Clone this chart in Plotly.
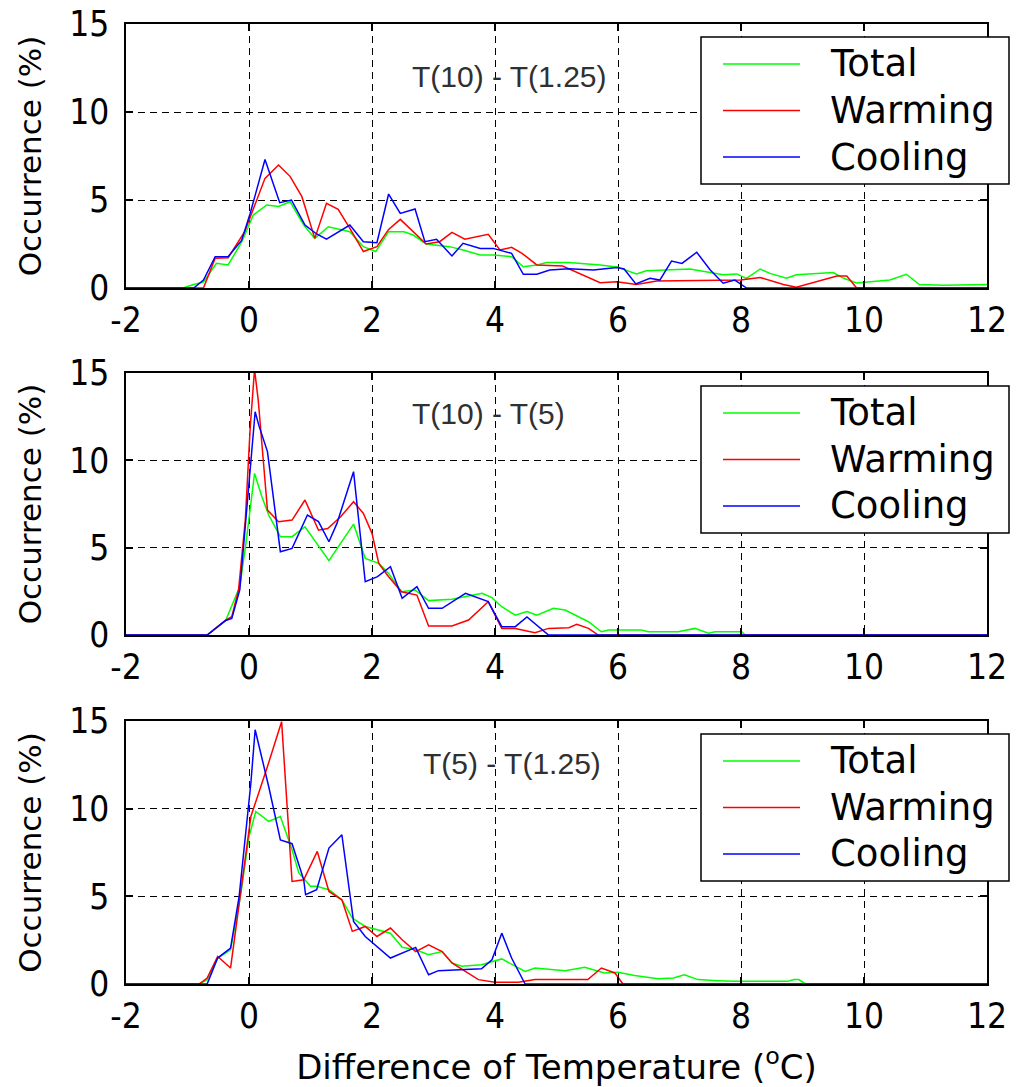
import plotly.graph_objects as go

# ---------------- data ----------------
# Panel 1: T(10) - T(1.25)
p1_total_x = [-2, -1.07, -0.9, -0.74, -0.53, -0.34, -0.12, 0.07, 0.29, 0.48, 0.67, 0.89, 1.07, 1.29, 1.64, 1.86, 2.06, 2.27, 2.52, 2.67, 2.88, 3.26, 3.48, 3.76, 3.97, 4.27, 4.46, 4.68, 4.84, 5.2, 5.71, 5.98, 6.3, 6.46, 7.17, 7.5, 7.71, 7.93, 8.09, 8.31, 8.47, 8.74, 8.9, 9.5, 9.67, 9.88, 10.42, 10.69, 10.9, 11.3, 12]
p1_total_y = [0, 0, 0.2, 0.33, 1.4, 1.31, 2.6, 4.15, 4.72, 4.63, 4.9, 3.58, 2.82, 3.48, 3.2, 2.35, 2.07, 3.2, 3.2, 3.01, 2.5, 2.35, 2.16, 1.88, 1.88, 1.78, 1.21, 1.31, 1.45, 1.45, 1.3, 1.2, 0.8, 0.98, 1.08, 0.9, 0.75, 0.8, 0.55, 1.08, 0.83, 0.55, 0.75, 0.88, 0.55, 0.28, 0.45, 0.78, 0.2, 0.15, 0.2]
p1_warm_x = [-2, -0.74, -0.55, -0.34, -0.07, 0.26, 0.48, 0.67, 0.86, 1.07, 1.26, 1.45, 1.64, 1.86, 2.08, 2.27, 2.46, 2.67, 2.88, 3.1, 3.3, 3.51, 3.89, 4.08, 4.27, 4.44, 4.68, 5.1, 5.71, 5.98, 6.3, 6.63, 7.6, 7.99, 8.31, 8.69, 8.9, 9.56, 9.72, 9.88, 12]
p1_warm_y = [0, 0, 1.69, 1.72, 3.2, 6.23, 6.99, 6.33, 5.19, 2.82, 4.81, 4.47, 3.39, 2.07, 2.35, 3.33, 3.9, 3.2, 2.5, 2.63, 3.16, 2.77, 3.05, 2.16, 2.31, 1.97, 1.31, 1.25, 0.3, 0.35, 0.2, 0.4, 0.45, 0.45, 0.6, 0.2, 0.05, 0.68, 0.68, 0, 0]
p1_cool_x = [-2, -0.9, -0.74, -0.55, -0.34, -0.12, 0.02, 0.26, 0.5, 0.69, 0.91, 1.1, 1.26, 1.45, 1.64, 1.86, 2.08, 2.27, 2.46, 2.7, 2.86, 3.05, 3.3, 3.48, 3.76, 3.97, 4.27, 4.46, 4.68, 4.89, 5.2, 5.6, 5.98, 6.1, 6.29, 6.52, 6.68, 6.87, 7.04, 7.28, 7.5, 7.71, 7.9, 8.09, 12]
p1_cool_y = [0, 0, 0.45, 1.78, 1.78, 2.7, 4.25, 7.3, 4.85, 5.0, 3.58, 3.07, 2.77, 3.2, 3.58, 2.63, 2.57, 5.34, 4.24, 4.49, 2.63, 2.77, 1.82, 2.54, 2.25, 2.25, 1.97, 0.78, 0.78, 1.02, 1.1, 1.02, 1.17, 1.08, 0.23, 0.55, 0.45, 1.53, 1.4, 2.03, 1.02, 0.27, 0.45, 0, 0]

# Panel 2: T(10) - T(5)
p2_total_x = [-2, -0.68, -0.38, -0.15, -0.05, 0.02, 0.09, 0.21, 0.32, 0.51, 0.7, 0.91, 1.3, 1.7, 1.89, 2.11, 2.27, 2.48, 2.7, 2.92, 3.3, 3.79, 3.95, 4.11, 4.33, 4.52, 4.68, 4.95, 5.14, 5.52, 5.73, 5.85, 6.38, 6.49, 6.98, 7.25, 7.47, 7.58, 8.01, 8.07, 12]
p2_total_y = [0, 0, 0.83, 2.77, 5.25, 7.15, 9.25, 7.92, 6.87, 5.63, 5.63, 6.2, 4.25, 6.35, 4.39, 4.1, 3.53, 2.48, 2.58, 1.97, 2.05, 2.39, 2.14, 1.62, 1.14, 1.34, 1.14, 1.53, 1.43, 0.76, 0.19, 0.29, 0.29, 0.19, 0.19, 0.38, 0.1, 0.19, 0.19, 0, 0]
p2_warm_x = [-2, -0.68, -0.38, -0.28, -0.17, -0.06, 0.02, 0.09, 0.15, 0.3, 0.48, 0.7, 0.91, 1.13, 1.28, 1.49, 1.7, 1.86, 2.0, 2.11, 2.27, 2.48, 2.73, 2.92, 3.3, 3.57, 3.89, 4.11, 4.33, 4.65, 4.87, 5.2, 5.33, 5.52, 5.68, 12]
p2_warm_y = [0, 0, 0.86, 1.05, 2.58, 6.58, 11.9, 15.2, 13.45, 7.15, 6.49, 6.58, 7.73, 6.0, 6.1, 6.77, 7.63, 6.96, 5.82, 4.1, 3.34, 2.48, 2.29, 0.52, 0.52, 0.86, 1.91, 0.38, 0.38, 0.13, 0.38, 0.42, 0.61, 0.38, 0, 0]
p2_cool_x = [-2, -0.68, -0.38, -0.28, -0.15, -0.05, 0.05, 0.1, 0.16, 0.3, 0.51, 0.7, 0.95, 1.13, 1.3, 1.43, 1.7, 1.89, 2.09, 2.3, 2.49, 2.73, 2.92, 3.14, 3.52, 3.89, 4.11, 4.33, 4.52, 4.87, 12]
p2_cool_y = [0, 0, 0.83, 0.95, 2.58, 6.58, 10.6, 12.78, 12.0, 10.5, 4.77, 4.96, 6.87, 6.49, 5.34, 6.39, 9.35, 3.05, 3.34, 3.91, 2.1, 2.77, 1.53, 1.53, 2.39, 1.91, 0.48, 0.48, 1.03, 0, 0]

# Panel 3: T(5) - T(1.25)
p3_total_x = [-2, -0.81, -0.68, -0.51, -0.3, -0.14, 0.0, 0.11, 0.32, 0.51, 0.7, 0.81, 1.0, 1.1, 1.3, 1.51, 1.68, 1.89, 2.3, 2.49, 2.71, 2.92, 3.14, 3.3, 3.46, 3.78, 4.11, 4.49, 4.65, 4.97, 5.14, 5.46, 5.62, 5.78, 6.0, 6.27, 6.65, 6.9, 7.08, 7.3, 7.62, 7.9, 8.76, 8.86, 8.94, 9.05, 12]
p3_total_y = [0, 0, 0.25, 1.48, 1.95, 5.0, 8.4, 9.84, 9.27, 9.55, 7.66, 6.33, 5.57, 5.57, 5.38, 4.8, 3.76, 3.28, 2.9, 2.09, 1.95, 1.67, 1.85, 1.2, 1.01, 1.1, 1.43, 0.72, 0.91, 0.82, 0.76, 0.95, 0.78, 0.63, 0.67, 0.48, 0.3, 0.34, 0.53, 0.25, 0.19, 0.15, 0.15, 0.25, 0.25, 0, 0]
p3_warm_x = [-2, -0.81, -0.68, -0.51, -0.3, -0.14, 0.03, 0.3, 0.53, 0.62, 0.7, 0.89, 1.11, 1.3, 1.51, 1.68, 1.89, 2.08, 2.3, 2.49, 2.71, 2.92, 3.14, 3.3, 3.73, 4.0, 4.38, 4.65, 5.51, 5.73, 5.95, 6.08, 12]
p3_warm_y = [0, 0, 0.34, 1.57, 0.91, 5.19, 9.55, 12.4, 14.96, 10.12, 5.85, 5.94, 7.56, 5.28, 4.8, 3.0, 3.28, 2.71, 3.19, 2.52, 1.85, 2.24, 1.85, 1.2, 0.25, 0.1, 0.1, 0.25, 0.25, 0.91, 0.63, 0, 0]
p3_cool_x = [-2, -0.68, -0.51, -0.3, -0.16, -0.05, 0.03, 0.1, 0.15, 0.32, 0.51, 0.7, 0.89, 0.92, 1.1, 1.3, 1.51, 1.7, 1.89, 2.3, 2.71, 2.92, 3.08, 3.78, 3.95, 4.11, 4.27, 4.49, 12]
p3_cool_y = [0, 0, 1.48, 2.05, 5.0, 8.6, 11.45, 14.5, 13.8, 11.26, 8.22, 8.0, 5.94, 5.09, 5.38, 7.75, 8.51, 3.57, 2.71, 1.48, 2.09, 0.53, 0.76, 0.87, 1.38, 2.9, 1.48, 0, 0]

series_names = ["Total", "Warming", "Cooling"]
series_colors = ["#00ff00", "#ff0000", "#0000ff"]
panel_labels = ["T(10) - T(1.25)", "T(10) - T(5)", "T(5) - T(1.25)"]
panel_label_pos = [(4.24, 12.0), (3.9, 12.7), (4.28, 12.6)]
x_ticks = [-2, 0, 2, 4, 6, 8, 10, 12]
y_ticks = [0, 5, 10, 15]

panels = [
    [(p1_total_x, p1_total_y), (p1_warm_x, p1_warm_y), (p1_cool_x, p1_cool_y)],
    [(p2_total_x, p2_total_y), (p2_warm_x, p2_warm_y), (p2_cool_x, p2_cool_y)],
    [(p3_total_x, p3_total_y), (p3_warm_x, p3_warm_y), (p3_cool_x, p3_cool_y)],
]

# ---------------- figure ----------------
W, H = 1017, 1087
ML, MR, MT, MB = 126, 30, 24, 103
domains = [[0.725, 1.0], [0.3635, 0.6365], [0.0, 0.274]]

TICK_FONT = dict(family="Liberation Sans Narrow, DejaVu Sans Condensed, Liberation Sans, Arial", size=35, color="black")
TEXT_FONT = "DejaVu Sans, Verdana, sans-serif"

fig = go.Figure()
layout = dict(
    width=W, height=H,
    margin=dict(l=ML, r=MR, t=MT, b=MB, pad=0, autoexpand=False),
    paper_bgcolor="white", plot_bgcolor="white",
    showlegend=False,
)

shapes, annotations = [], []
plot_w = W - ML - MR

for i, (series, dom) in enumerate(zip(panels, domains)):
    k = "" if i == 0 else str(i + 1)
    for (xs, ys), name, col in zip(series, series_names, series_colors):
        fig.add_trace(go.Scatter(x=xs, y=ys, mode="lines", name=name,
                                 line=dict(color=col, width=1.5),
                                 xaxis="x" + k, yaxis="y" + k, showlegend=False))
    axis_common = dict(showline=True, linecolor="black", linewidth=1.5, mirror="ticks",
                       ticks="inside", ticklen=7, tickwidth=1.5, tickcolor="black",
                       showgrid=True, gridcolor="black", gridwidth=1.3, griddash="7px,5px",
                       zeroline=False, tickfont=TICK_FONT, automargin=False)
    layout["xaxis" + k] = dict(axis_common, domain=[0, 1], anchor="y" + k, range=[-2, 12],
                               tickmode="array", tickvals=x_ticks,
                               ticktext=[str(v) for v in x_ticks], ticklabelstandoff=0)
    layout["yaxis" + k] = dict(axis_common, domain=dom, anchor="x" + k, range=[0, 15],
                               tickmode="array", tickvals=y_ticks,
                               ticktext=[str(v) for v in y_ticks], ticklabelstandoff=8,
                               title=dict(text="Occurrence (%)", standoff=18,
                                          font=dict(family=TEXT_FONT, size=31, color="black")))
    if i == 2:
        layout["xaxis" + k]["title"] = dict(text="Difference of Temperature (<sup>o</sup>C)",
                                            standoff=20,
                                            font=dict(family=TEXT_FONT, size=34, color="black"))

    # panel label
    lx, ly = panel_label_pos[i]
    annotations.append(dict(x=lx, y=ly, xref="x" + k, yref="y" + k, text=panel_labels[i],
                            showarrow=False, xanchor="center", yanchor="middle",
                            font=dict(family="Liberation Sans, Arial", size=30, color="#303030")))

    # legend box (drawn in subplot domain coordinates)
    ph = (dom[1] - dom[0]) * (H - MT - MB)
    def yd(off):
        return 1 - off / ph
    def xd(px):
        return (px - ML) / plot_w
    xr, yr = "x" + k + " domain", "y" + k + " domain"
    shapes.append(dict(type="rect", xref=xr, yref=yr, x0=xd(701), x1=xd(1009), y0=yd(160), y1=yd(13),
                       line=dict(color="black", width=1.5), fillcolor="white", layer="above"))
    for j, (name, col) in enumerate(zip(series_names, series_colors)):
        yo = yd(40 + j * 46.5)
        shapes.append(dict(type="line", xref=xr, yref=yr, x0=xd(723), x1=xd(800), y0=yo, y1=yo,
                           line=dict(color=col, width=1.5), layer="above"))
        annotations.append(dict(x=xd(828), y=yo, xref=xr, yref=yr, text=name, showarrow=False,
                                xanchor="left", yanchor="middle",
                                font=dict(family=TEXT_FONT, size=37, color="black")))

layout["shapes"] = shapes
layout["annotations"] = annotations
fig.update_layout(**layout)
fig.write_html("out.html")
